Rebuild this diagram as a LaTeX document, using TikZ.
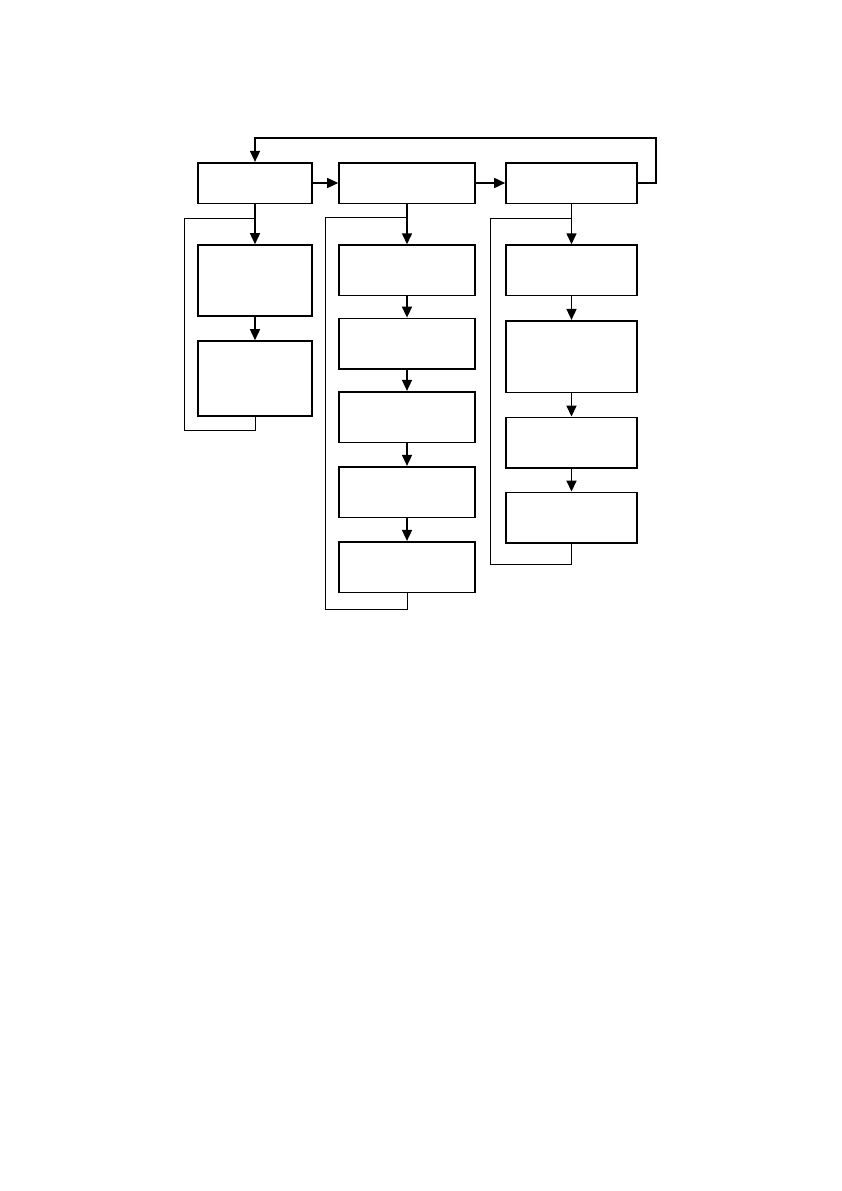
\documentclass[tikz,border=0pt]{standalone}
\usetikzlibrary{arrows.meta}
\begin{document}
\begin{tikzpicture}[x=1pt,y=-1pt,
 box/.style={draw,line width=1.6pt,rectangle,inner sep=0pt},
 arr/.style={line width=1.6pt,-{Triangle[length=11pt,width=10pt]}},
 loopline/.style={line width=1pt}]
\useasboundingbox (0,0) rectangle (842,1191);
% column A
\node[box,minimum width=114pt,minimum height=40.6pt] (A1) at (255,183) {};
\node[box,minimum width=114pt,minimum height=71pt] (A2) at (255,280.5) {};
\node[box,minimum width=114pt,minimum height=75pt] (A3) at (255,378.5) {};
% column B
\node[box,minimum width=136pt,minimum height=40.6pt] (B1) at (407,183) {};
\node[box,minimum width=136pt,minimum height=50.3pt] (B2) at (407,270.2) {};
\node[box,minimum width=136pt,minimum height=50.6pt] (B3) at (407,343.7) {};
\node[box,minimum width=136pt,minimum height=50.6pt] (B4) at (407,417) {};
\node[box,minimum width=136pt,minimum height=50.6pt] (B5) at (407,492) {};
\node[box,minimum width=136pt,minimum height=50.6pt] (B6) at (407,567) {};
% column C
\node[box,minimum width=131pt,minimum height=40.6pt] (C1) at (571.5,183) {};
\node[box,minimum width=131pt,minimum height=50.3pt] (C2) at (571.5,270.2) {};
\node[box,minimum width=131pt,minimum height=71.6pt] (C3) at (571.5,356.5) {};
\node[box,minimum width=131pt,minimum height=50.7pt] (C4) at (571.5,442.7) {};
\node[box,minimum width=131pt,minimum height=50.7pt] (C5) at (571.5,517.7) {};
% horizontal arrows
\draw[arr] (A1.east) -- (B1.west);
\draw[arr] (B1.east) -- (C1.west);
% feedback
\coordinate (fbR) at (656,137.7);
\coordinate (fbL) at (255,137.7);
\draw[arr] (C1.east) -| (fbR) -- (fbL) -- (A1.north);
% vertical arrows
\draw[arr] (A1.south) -- (A2.north);
\draw[arr] (A2.south) -- (A3.north);
\draw[arr] (B1.south) -- (B2.north);
\draw[arr] (B2.south) -- (B3.north);
\draw[arr] (B3.south) -- (B4.north);
\draw[arr] (B4.south) -- (B5.north);
\draw[arr] (B5.south) -- (B6.north);
\draw[arr] (C1.south) -- (C2.north);
\draw[arr] (C2.south) -- (C3.north);
\draw[arr] (C3.south) -- (C4.north);
\draw[arr] (C4.south) -- (C5.north);
% return loops
\coordinate (Abr) at (255,218.3);
\coordinate (Al) at (184.3,430);
\draw[loopline] (Abr) -| (Al) -| (A3.south);
\coordinate (Bbr) at (407,217.7);
\coordinate (Bl) at (325.7,609.3);
\draw[loopline] (Bbr) -| (Bl) -| (B6.south);
\coordinate (Cbr) at (571.5,218);
\coordinate (Cl) at (490.7,564.3);
\draw[loopline] (Cbr) -| (Cl) -| (C5.south);
\end{tikzpicture}
\end{document}
